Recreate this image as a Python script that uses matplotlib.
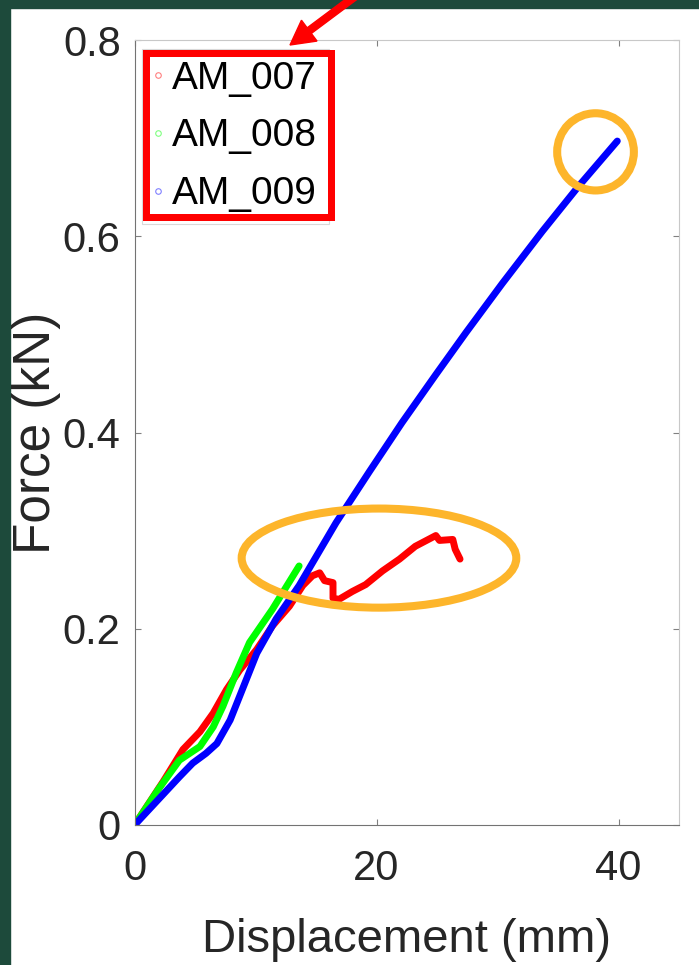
import matplotlib
matplotlib.use("Agg")
import matplotlib.pyplot as plt
from matplotlib.lines import Line2D
from matplotlib.patches import Ellipse, FancyArrow, Rectangle
from matplotlib.transforms import IdentityTransform

# --- данные -------------------------------------------------------------
am007_x = [0, 2.4, 4.0, 5.4, 6.5, 7.6, 8.7, 10.1, 11.4, 12.8, 13.9, 14.7,
           15.3, 15.7, 16.4, 16.4, 16.9, 18.0, 19.1, 20.5, 21.9, 23.2, 24.9,
           25.2, 26.3, 26.5, 26.9]
am007_y = [0, 0.045, 0.077, 0.095, 0.114, 0.138, 0.158, 0.179, 0.203, 0.223,
           0.244, 0.254, 0.257, 0.249, 0.247, 0.231, 0.230, 0.238, 0.245,
           0.259, 0.271, 0.284, 0.295, 0.290, 0.291, 0.281, 0.271]

am008_x = [0, 2.0, 3.7, 5.4, 6.5, 7.3, 8.4, 9.5, 11.4, 13.6]
am008_y = [0, 0.037, 0.066, 0.080, 0.100, 0.121, 0.155, 0.186, 0.220, 0.264]

am009_x = [0, 3.7, 4.8, 5.9, 6.8, 7.9, 9.0, 10.1, 11.7, 13.6, 16.65, 19.4,
           22.1, 24.9, 27.4, 30.4, 33.7, 36.7, 39.9]
am009_y = [0, 0.049, 0.063, 0.073, 0.083, 0.107, 0.141, 0.175, 0.210, 0.244,
           0.308, 0.360, 0.410, 0.459, 0.502, 0.552, 0.605, 0.651, 0.697]

series_labels = ["AM_007", "AM_008", "AM_009"]
x_ticks = [0, 20, 40]
y_ticks = [0, 0.2, 0.4, 0.6, 0.8]
y_tick_labels = ["0", "0.2", "0.4", "0.6", "0.8"]

LINE_COLORS = ["#ff0000", "#00ff00", "#0000ff"]
MARKER_COLORS = ["#ff8080", "#80ff80", "#8080ff"]
ORANGE = "#fdb52b"
BG_GREEN = "#1d4a3b"
TEXT = "#262626"

plt.rcParams["font.family"] = ["Liberation Sans", "DejaVu Sans"]

W, H = 699, 965
fig = plt.figure(figsize=(W / 100, H / 100), dpi=100)
ax = fig.add_axes([134.6 / W, 140 / H, 544.4 / W, 785 / H])

for xs, ys, c in zip([am007_x, am008_x, am009_x],
                     [am007_y, am008_y, am009_y], LINE_COLORS):
    ax.plot(xs, ys, color=c, lw=5, solid_capstyle="round",
            solid_joinstyle="round")

ax.set_xlim(0, 45)
ax.set_ylim(0, 0.8)
ax.set_xticks(x_ticks)
ax.set_yticks(y_ticks)
ax.set_yticklabels(y_tick_labels)
ax.tick_params(direction="in", length=4.5, width=0.8, color="#808080",
               top=True, right=True, labelsize=30, labelcolor=TEXT)
ax.tick_params(axis="x", pad=17)
ax.tick_params(axis="y", pad=10)
for side in ["left", "bottom"]:
    ax.spines[side].set_color("#737373")
for side in ["top", "right"]:
    ax.spines[side].set_color("#c8c8c8")

ax.set_xlabel("Displacement (mm)", fontsize=34, color=TEXT)
ax.xaxis.set_label_coords(0.5, -0.119)
ax.set_ylabel("Force (kN)", fontsize=37, color=TEXT)
ax.yaxis.set_label_coords(-0.1352, 0.5)

# легенда в духе MATLAB: светлая рамка, маленькие кружки
handles = [Line2D([], [], ls="none", marker="o", ms=4, mfc="none", mec=c,
                  mew=0.8) for c in MARKER_COLORS]
leg = ax.legend(handles, series_labels, loc="upper left",
                bbox_to_anchor=(0.0136, 0.9885), borderaxespad=0,
                fontsize=28, handlelength=0.2, handletextpad=0.27,
                borderpad=0.3, labelspacing=0.56, fancybox=False,
                edgecolor="#d9d9d9", framealpha=1)
leg.get_frame().set_linewidth(0.8)

# оранжевые выделения
ax.add_patch(Ellipse((20.2, 0.272), 22.7, 0.101, fill=False, ec=ORANGE,
                     lw=5.8, clip_on=False, zorder=5))
ax.add_patch(Ellipse((38.1, 0.686), 6.34, 0.0787, fill=False, ec=ORANGE,
                     lw=5.8, clip_on=False, zorder=5))

# тёмно-зелёная рамка слайда, красная рамка вокруг легенды и стрелка
fig.add_artist(Rectangle((0, 0), 10 / W, 1, transform=fig.transFigure,
                         color=BG_GREEN, zorder=0))
fig.add_artist(Rectangle((0, 1 - 8 / H), 1, 8 / H, transform=fig.transFigure,
                         color=BG_GREEN, zorder=0))
fig.add_artist(Rectangle((145.5, H - 216.5), 185, 164, fill=False,
                         ec="#ff0000", lw=5.04, joinstyle="miter",
                         transform=IdentityTransform(), zorder=10))
fig.add_artist(FancyArrow(357, H + 5, -67, -50, width=7, head_width=26,
                          head_length=24, length_includes_head=True,
                          color="#ff0000", transform=IdentityTransform(),
                          zorder=10))

fig.savefig("out.png", dpi=100)
